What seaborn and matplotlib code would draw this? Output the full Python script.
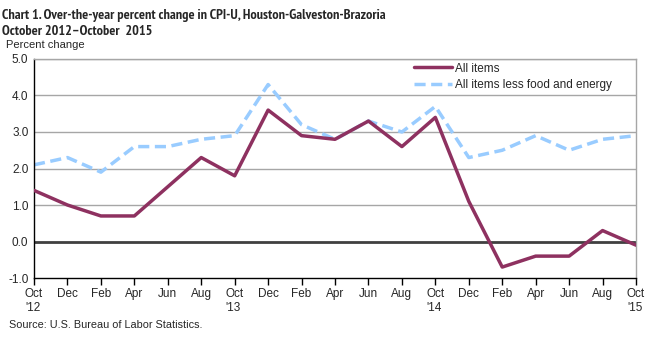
import matplotlib
matplotlib.use("Agg")
import matplotlib.pyplot as plt
import seaborn as sns
import pandas as pd
from matplotlib import font_manager

months = ["Oct\n'12", "Dec", "Feb", "Apr", "Jun", "Aug", "Oct\n'13", "Dec", "Feb", "Apr",
          "Jun", "Aug", "Oct\n'14", "Dec", "Feb", "Apr", "Jun", "Aug", "Oct\n'15"]
all_items = [1.4, 1.0, 0.7, 0.7, 1.5, 2.3, 1.8, 3.6, 2.9, 2.8, 3.3, 2.6, 3.4, 1.1, -0.7, -0.4, -0.4, 0.3, -0.1]
core = [2.1, 2.3, 1.9, 2.6, 2.6, 2.8, 2.9, 4.3, 3.2, 2.8, 3.3, 3.0, 3.7, 2.3, 2.5, 2.9, 2.5, 2.8, 2.9]
yticks = [-1.0, 0.0, 1.0, 2.0, 3.0, 4.0, 5.0]

sns.set_style("white")
plt.rcParams['font.family'] = ['Liberation Sans', 'DejaVu Sans']


def _weight(f):
    w = f.weight
    if isinstance(w, str):
        return font_manager.weight_dict.get(w, 400)
    return w


bold_names = {f.name for f in font_manager.fontManager.ttflist
              if _weight(f) >= 600 and 'italic' not in str(f.style)}
title_family = ['Liberation Sans']
for cand in ['Liberation Sans Narrow', 'Arial Narrow', 'PT Sans Narrow', 'Archivo Narrow',
             'Roboto Condensed', 'Fira Sans Condensed', 'IBM Plex Sans Condensed',
             'Open Sans Condensed', 'Asap Condensed', 'Barlow Semi Condensed', 'Barlow Condensed']:
    if cand in bold_names:
        title_family = [cand, 'Liberation Sans']
        break

fig = plt.figure(figsize=(6.54, 3.37), dpi=100)
ax = fig.add_axes([0.052, 0.175, 0.9205, 0.65])

idx = list(range(len(months)))
df = pd.DataFrame({"x": idx, "All items": all_items, "All items less food and energy": core})

for y in yticks[2:]:
    ax.axhline(y, color="#a6a6a6", lw=1, zorder=0)
ax.axhline(0, color="#404040", lw=2, zorder=1)

sns.lineplot(data=df, x="x", y="All items", ax=ax, color="#8e3160", lw=2.5, label="All items", zorder=3)
sns.lineplot(data=df, x="x", y="All items less food and energy", ax=ax, color="#99ccff", lw=2.5,
             linestyle=(0, (3.2, 1.6)), label="All items less food and energy", zorder=2)

ax.set_xlim(0, len(months) - 1)
ax.set_ylim(-1, 5)
ax.set_xticks(idx)
ax.set_xticklabels(months, fontsize=8.5, ha="center", va="top", multialignment="left")
ax.set_yticks(yticks)
ax.set_yticklabels([f"{v:.1f}" for v in yticks], fontsize=8.5)
ax.tick_params(axis="x", direction="out", length=5, width=1, color="black", pad=2, bottom=True)
ax.tick_params(axis="y", length=0, pad=4)
ax.set_xlabel("")
ax.set_ylabel("")

for s in ["left", "bottom"]:
    ax.spines[s].set_color("black")
    ax.spines[s].set_linewidth(1)
for s in ["top", "right"]:
    ax.spines[s].set_color("#a6a6a6")
    ax.spines[s].set_linewidth(1)

leg = ax.legend(loc="upper left", bbox_to_anchor=(0.623, 1.005), frameon=False, fontsize=8.5,
                handlelength=3.2, handletextpad=0.3, labelspacing=0.38, borderaxespad=0)

t1 = fig.text(0.003, 0.955, "Chart 1. Over-the-year percent change in CPI-U, Houston-Galveston-Brazoria",
              fontsize=10.5, fontweight="bold", ha="left", va="center", family=title_family)
t2 = fig.text(0.003, 0.907, "October 2012\u2013October  2015", fontsize=10.5, fontweight="bold", ha="left",
              va="center", family=title_family)
# fit title width to the reference's span (~382 px)
fig.canvas.draw()
w = t1.get_window_extent().width
fs = 10.5 * 382.0 / w
fs = max(8.5, min(fs, 11))
t1.set_fontsize(fs)
t2.set_fontsize(fs)

fig.text(0.009, 0.865, "Percent change", fontsize=8, ha="left", va="center")
fig.text(0.014, 0.035, "Source: U.S. Bureau of Labor Statistics.", fontsize=7.8, ha="left", va="center")

fig.savefig("out.png", dpi=100)
